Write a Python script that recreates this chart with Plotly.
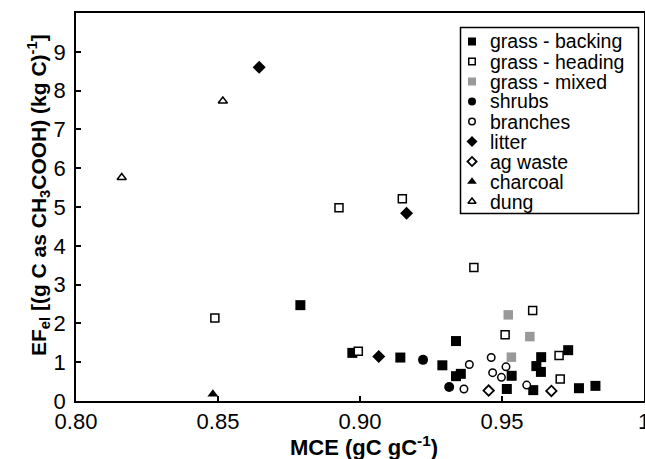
import plotly.graph_objects as go

# ---- data ----
backing_x = [0.879, 0.8973, 0.9142, 0.929, 0.9338, 0.9338, 0.9355, 0.9517, 0.9534, 0.961, 0.9621, 0.9637, 0.9638, 0.9733, 0.9771, 0.9829]
backing_y = [2.47, 1.24, 1.12, 0.92, 1.545, 0.64, 0.70, 0.31, 0.65, 0.28, 0.90, 0.75, 1.13, 1.31, 0.33, 0.39]

heading_x = [0.8489, 0.8926, 0.8994, 0.9149, 0.9401, 0.9511, 0.9608, 0.9701, 0.9705]
heading_y = [2.14, 4.98, 1.28, 5.21, 3.44, 1.71, 2.33, 1.17, 0.57]

mixed_x = [0.9522, 0.9598, 0.9533]
mixed_y = [2.22, 1.66, 1.13]

shrubs_x = [0.9222, 0.9314]
shrubs_y = [1.06, 0.36]

branches_x = [0.9385, 0.9462, 0.9514, 0.9467, 0.9498, 0.9587, 0.9366]
branches_y = [0.94, 1.12, 0.88, 0.73, 0.61, 0.41, 0.31]

litter_x = [0.8645, 0.9164, 0.9066]
litter_y = [8.60, 4.84, 1.15]

agwaste_x = [0.9453, 0.9674]
agwaste_y = [0.27, 0.26]

charcoal_x = [0.8482]
charcoal_y = [0.18]

dung_x = [0.8161, 0.8517]
dung_y = [5.76, 7.73]

series_names = ["grass - backing", "grass - heading", "grass - mixed", "shrubs",
                "branches", "litter", "ag waste", "charcoal", "dung"]

x_tickvals = [0.80, 0.85, 0.90, 0.95, 1.00]
x_ticktext = ["0.80", "0.85", "0.90", "0.95", "1"]
y_tickvals = [0, 1, 2, 3, 4, 5, 6, 7, 8, 9]

# ---- styles ----
FONT = "Arial, Liberation Sans, sans-serif"
styles = [
    dict(symbol="square", color="black", size=10, lw=0, lc="black", lsize=8),
    dict(symbol="square", color="white", size=8, lw=1.5, lc="black", lsize=6.5),
    dict(symbol="square", color="#999999", size=9.5, lw=0, lc="#999999", lsize=8),
    dict(symbol="circle", color="black", size=10, lw=0, lc="black", lsize=8),
    dict(symbol="circle", color="white", size=7.5, lw=1.5, lc="black", lsize=6.5),
    dict(symbol="diamond", color="black", size=10, lw=0, lc="black", lsize=8.5),
    dict(symbol="diamond", color="white", size=8, lw=1.8, lc="black", lsize=7),
    dict(symbol="triangle-up", color="black", size=9.5, lw=0, lc="black", lsize=8.5),
    dict(symbol="triangle-up", color="white", size=8, lw=1.5, lc="black", lsize=7),
]
data = [(backing_x, backing_y), (heading_x, heading_y), (mixed_x, mixed_y),
        (shrubs_x, shrubs_y), (branches_x, branches_y), (litter_x, litter_y),
        (agwaste_x, agwaste_y), (charcoal_x, charcoal_y), (dung_x, dung_y)]

fig = go.Figure()
for name, (xs, ys), st in zip(series_names, data, styles):
    fig.add_trace(go.Scatter(
        x=xs, y=ys, mode="markers", name=name, showlegend=False,
        marker=dict(symbol=st["symbol"], color=st["color"], size=st["size"],
                    line=dict(width=st["lw"], color=st["lc"])),
    ))

# ---- manual legend (paper-fraction overlay axes) ----
W, H = 645, 459
ML, MR, MT, MB = 76, 1, 13, 58
PW, PH = W - ML - MR, H - MT - MB

def px2fx(px):
    return (px - ML) / PW

def py2fy(py):
    return (H - MB - py) / PH

row0, row_step = 41.5, 20.0
mark_px, text_px = 472, 488
for i, (name, st) in enumerate(zip(series_names, styles)):
    ry = py2fy(row0 + i * row_step)
    fig.add_trace(go.Scatter(
        x=[px2fx(mark_px)], y=[ry], xaxis="x2", yaxis="y2", mode="markers",
        showlegend=False, hoverinfo="skip",
        marker=dict(symbol=st["symbol"], color=st["color"], size=st["lsize"],
                    line=dict(width=st["lw"], color=st["lc"])),
    ))
    fig.add_annotation(x=px2fx(text_px), y=ry, xref="paper", yref="paper",
                       text=name, showarrow=False, xanchor="left", yanchor="middle",
                       font=dict(family=FONT, size=19.5, color="black"))

fig.add_shape(type="rect", xref="paper", yref="paper",
              x0=px2fx(460.5), x1=px2fx(638.5), y0=py2fy(213.5), y1=py2fy(27.5),
              line=dict(color="black", width=1.5), fillcolor="white", layer="below")

# axis titles
fig.add_annotation(x=px2fx(364), y=py2fy(446), xref="paper", yref="paper",
                   text="<b>MCE (gC gC<sup>-1</sup>)</b>", showarrow=False,
                   xanchor="center", yanchor="middle",
                   font=dict(family=FONT, size=22, color="black"))
fig.add_annotation(x=px2fx(38), y=py2fy(195), xref="paper", yref="paper",
                   text="<b>EF<sub>el</sub> [(g C as CH<sub>3</sub>COOH) (kg C)<sup>-1</sup>]</b>",
                   showarrow=False, textangle=-90, xanchor="center", yanchor="middle",
                   font=dict(family=FONT, size=21, color="black"))

axis_common = dict(showline=True, mirror=True, linecolor="black", linewidth=1.5,
                   ticks="inside", ticklen=5, tickwidth=1.5, tickcolor="black",
                   showgrid=False, zeroline=False, ticklabeloverflow="allow",
                   automargin=False,
                   tickfont=dict(family=FONT, size=22, color="black"))

fig.update_layout(
    width=W, height=H,
    margin=dict(l=ML, r=MR, t=MT, b=MB, autoexpand=False),
    paper_bgcolor="white", plot_bgcolor="white",
    showlegend=False,
    xaxis=dict(range=[0.80, 1.00], tickvals=x_tickvals, ticktext=x_ticktext, **axis_common),
    yaxis=dict(range=[0, 10], tickvals=y_tickvals, ticklabelstandoff=4, **axis_common),
    xaxis2=dict(range=[0, 1], overlaying="x", visible=False, anchor="y2"),
    yaxis2=dict(range=[0, 1], overlaying="y", visible=False, anchor="x2"),
)

fig.write_html("out.html", config={"displayModeBar": False})
with open("out.html", "r", encoding="utf-8") as f:
    html = f.read()
html = html.replace("<head>", "<head><style>html,body{margin:0;padding:0;overflow:hidden;}</style>", 1)
with open("out.html", "w", encoding="utf-8") as f:
    f.write(html)
